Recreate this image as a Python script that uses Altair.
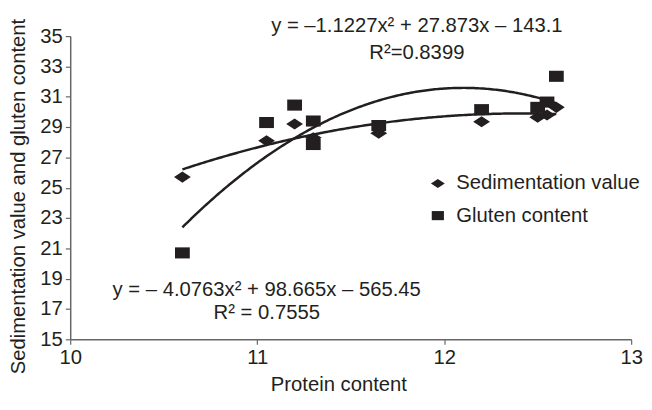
import altair as alt
import pandas as pd

# --- data ---
sed_protein = [10.6, 11.05, 11.2, 11.3, 11.65, 12.2, 12.5, 12.55, 12.6]
sed_value = [25.7, 28.1, 29.2, 28.3, 28.6, 29.35, 29.65, 29.8, 30.3]

glu_protein = [10.6, 11.05, 11.2, 11.3, 11.3, 11.65, 12.2, 12.5, 12.55, 12.6]
glu_value = [20.7, 29.3, 30.45, 29.4, 27.85, 29.1, 30.15, 30.3, 30.65, 32.35]

# trend-line coefficients printed on the chart: y = a x^2 + b x + c
sed_coef = [-1.1227, 27.873, -143.1]
glu_coef = [-4.0763, 98.665, -565.45]
fit_range = [10.6, 12.6]

series_names = ["Sedimentation value", "Gluten content"]
eq_texts = ["y = \u20131.1227x\u00b2 + 27.873x \u2013 143.1", "R\u00b2=0.8399",
            "y = \u2013 4.0763x\u00b2 + 98.665x \u2013 565.45", "R\u00b2 = 0.7555"]
y_ticks = list(range(15, 36, 2))
x_ticks = [10, 11, 12, 13]

INK = "#231f20"
FONT = "Liberation Sans"
FS = 20.5
DIAMOND = "M-1,0L0,-0.66L1,0L0,0.66Z"
SQUARE = "M-0.88,-0.66L0.88,-0.66L0.88,0.66L-0.88,0.66Z"

df = pd.concat([
    pd.DataFrame({"protein": sed_protein, "value": sed_value, "series": series_names[0]}),
    pd.DataFrame({"protein": glu_protein, "value": glu_value, "series": series_names[1]}),
])

xscale = alt.Scale(domain=[10, 13], nice=False, zero=False)
yscale = alt.Scale(domain=[15, 35], nice=False, zero=False)

xaxis = alt.Axis(values=x_ticks, format="d", title="Protein content", titleFontSize=FS,
                 titleX=271.5, titleY=52, titleBaseline="alphabetic", titleAlign="center",
                 labelFontSize=FS, tickSize=5, labelPadding=4, labelFlush=False,
                 labelOverlap=False)
yaxis = alt.Axis(values=y_ticks, format="d", title="Sedimentation value and gluten content",
                 titleFontSize=FS, titleX=-46, titleY=162, titleBaseline="alphabetic",
                 titleAngle=-90, titleAlign="center",
                 labelFontSize=FS, tickSize=5, labelPadding=3, labelFlush=False,
                 labelOverlap=False, labelBound=False)

points = alt.Chart(df).mark_point(filled=True, opacity=1, size=289, strokeWidth=0).encode(
    x=alt.X("protein:Q", scale=xscale, axis=xaxis),
    y=alt.Y("value:Q", scale=yscale, axis=yaxis),
    color=alt.value(INK),
    shape=alt.Shape("series:N",
                    scale=alt.Scale(domain=series_names, range=[DIAMOND, SQUARE]),
                    legend=alt.Legend(title=None, orient="none", legendX=362, legendY=139,
                                      labelFontSize=FS, labelFont=FONT, labelColor=INK,
                                      labelLimit=0,
                                      symbolSize=196, symbolFillColor=INK, symbolStrokeWidth=0,
                                      symbolOpacity=1, labelOffset=8.5, rowPadding=11.5,
                                      padding=0)),
)


def curve(coef):
    a, b, c = coef
    return alt.Chart(alt.sequence(fit_range[0], fit_range[1] + 0.001, 0.01, as_="x")).transform_calculate(
        y=f"{a}*datum.x*datum.x + {b}*datum.x + ({c})"
    ).mark_line(color=INK, strokeWidth=2.5).encode(
        x=alt.X("x:Q", scale=xscale, axis=xaxis),
        y=alt.Y("y:Q", scale=yscale, axis=yaxis),
    )


def label(text, x, y):
    return alt.Chart(pd.DataFrame({"t": [text]})).mark_text(
        font=FONT, fontSize=FS, color=INK, align="center", baseline="alphabetic"
    ).encode(text="t:N", x=alt.value(x), y=alt.value(y))


chart = alt.layer(
    points,
    curve(sed_coef),
    curve(glu_coef),
    label(eq_texts[0], 351, -4),
    label(eq_texts[1], 351, 23),
    label(eq_texts[2], 199, 263),
    label(eq_texts[3], 199, 286),
).properties(
    width=568, height=307,
    autosize=alt.AutoSizeParams(type="none"),
    padding={"left": 63, "top": 26, "right": 13, "bottom": 61},
).configure_view(stroke=None).configure_axis(
    grid=False, domainColor="#666666", tickColor="#666666", domainWidth=1.5, tickWidth=1.2,
    labelColor=INK, titleColor=INK, labelFont=FONT, titleFont=FONT, titleFontWeight="normal",
    labelOverlap=False,
).configure_text(font=FONT)

chart.save("out.html", embed_options={"renderer": "svg", "actions": False})
